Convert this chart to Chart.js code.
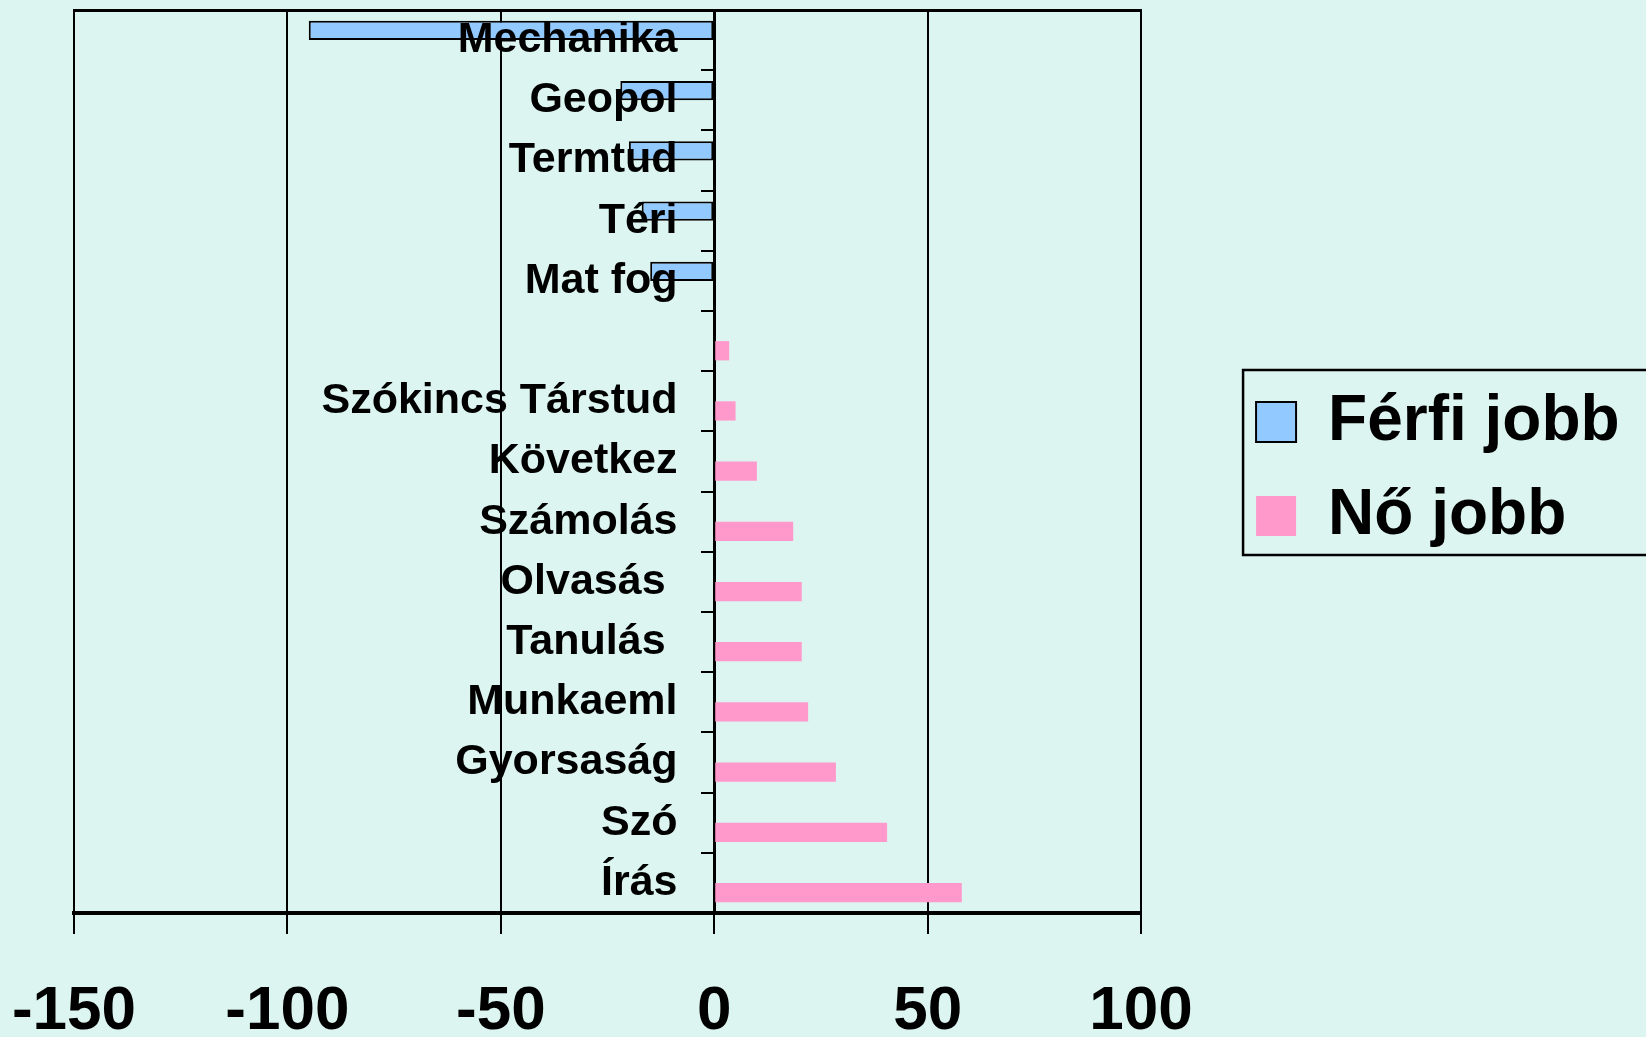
<!DOCTYPE html>
<html><head><meta charset="utf-8">
<script src="https://cdn.jsdelivr.net/npm/chart.js@4/dist/chart.umd.min.js"></script>
<style>
html,body{margin:0;padding:0;background:#DCF5F0;overflow:hidden}
canvas{display:block}
</style></head>
<body>
<canvas id="c" width="1646" height="1037"></canvas>
<script>
const categories = ['Mechanika','Geopol','Termtud','Téri','Mat fog','','Szókincs Társtud','Következ','Számolás','Olvasás ','Tanulás ','Munkaeml','Gyorsaság','Szó','Írás'];
const ferfiJobb = [-95,-22,-20,-17,-15,null,null,null,null,null,null,null,null,null,null];
const noJobb = [null,null,null,null,null,3.5,5,10,18.5,20.5,20.5,22,28.5,40.5,58];
const xTickValues = [-150,-100,-50,0,50,100];
const seriesNames = ['Férfi jobb','Nő jobb'];

const FONT = "'Liberation Sans', Arial, sans-serif";
Chart.defaults.font.family = FONT;
Chart.defaults.color = '#000';

const legendBorder = {
  id: 'legendBorder',
  afterDraw(chart) {
    const lg = chart.legend;
    if (!lg || !lg.legendHitBoxes || lg.legendHitBoxes.length < 2) return;
    const h0 = lg.legendHitBoxes[0], h1 = lg.legendHitBoxes[1];
    const ctx = chart.ctx;
    const left = h0.left - 13;
    const top = h0.top + 12 - 32;
    const bottom = h1.top + 12 + 40 + 19;
    ctx.save();
    ctx.strokeStyle = '#000';
    ctx.lineWidth = 2.5;
    ctx.strokeRect(left, top, 1700 - left, bottom - top);
    ctx.restore();
  }
};

const noPad = (s) => { s.paddingLeft = 0; s.paddingRight = 0; s.paddingTop = 0; s.paddingBottom = 0; };

new Chart(document.getElementById('c'), {
  type: 'bar',
  data: {
    labels: categories,
    datasets: [
      { label: seriesNames[0], data: ferfiJobb, backgroundColor: '#92C9FF', borderColor: '#000', borderWidth: 2, borderSkipped: false },
      { label: seriesNames[1], data: noJobb, backgroundColor: '#FF99CC', borderColor: '#FF99CC', borderWidth: 0 }
    ]
  },
  options: {
    indexAxis: 'y',
    responsive: false,
    animation: false,
    devicePixelRatio: 1,
    categoryPercentage: 0.64,
    barPercentage: 1.0,
    layout: { padding: { left: 74, top: 10, right: 16.4, bottom: 0 } },
    plugins: {
      tooltip: { enabled: false },
      legend: {
        position: 'right',
        align: 'start',
        maxWidth: 700,
        title: { display: true, text: ' ', font: { size: 5 }, padding: { top: 344, bottom: 0 } },
        labels: {
          boxWidth: 40, boxHeight: 40, padding: 30, color: '#000',
          font: { size: 64, weight: 'bold', family: FONT }
        }
      }
    },
    scales: {
      x: {
        type: 'linear', position: 'bottom', min: -150, max: 100,
        ticks: {
          stepSize: 50, autoSkip: false, maxRotation: 0, minRotation: 0, padding: 41,
          color: '#000', font: { size: 62, weight: 'bold', family: FONT },
          callback: (v) => xTickValues.includes(v) ? String(v) : ''
        },
        grid: { color: '#000', lineWidth: 2, drawTicks: true, tickLength: 21, drawOnChartArea: true },
        border: { color: '#000', width: 4 },
        afterFit: (s) => { s.height = 124; noPad(s); }
      },
      xTop: {
        type: 'linear', axis: 'x', position: 'top', min: -150, max: 100,
        ticks: { display: false },
        grid: { display: false, drawTicks: false },
        border: { display: true, color: '#000', width: 3 },
        afterFit: (s) => { s.height = 0; noPad(s); }
      },
      y: {
        type: 'category', axis: 'y', position: { x: 0 }, offset: true,
        ticks: { display: false },
        grid: { offset: true, drawOnChartArea: false, drawTicks: true, tickLength: 12, color: '#000', lineWidth: 2 },
        border: { color: '#000', width: 3 },
        afterFit: (s) => { s.width = 0; noPad(s); }
      },
      yLab: {
        type: 'category', axis: 'y', labels: categories, position: { x: -8.6 }, offset: true,
        ticks: { display: true, z: 1, padding: 0, autoSkip: false, color: '#000', font: { size: 43, weight: 'bold', family: FONT } },
        grid: { display: false, drawTicks: false, offset: true },
        border: { display: false },
        afterFit: (s) => { s.width = 0; noPad(s); }
      },
      ySpacer: {
        type: 'category', axis: 'y', labels: categories, position: 'right', offset: true,
        ticks: { display: false },
        grid: { display: false, drawTicks: false },
        border: { display: false },
        afterFit: (s) => { s.width = 85; noPad(s); }
      }
    }
  },
  plugins: [legendBorder]
});
</script>
</body></html>
